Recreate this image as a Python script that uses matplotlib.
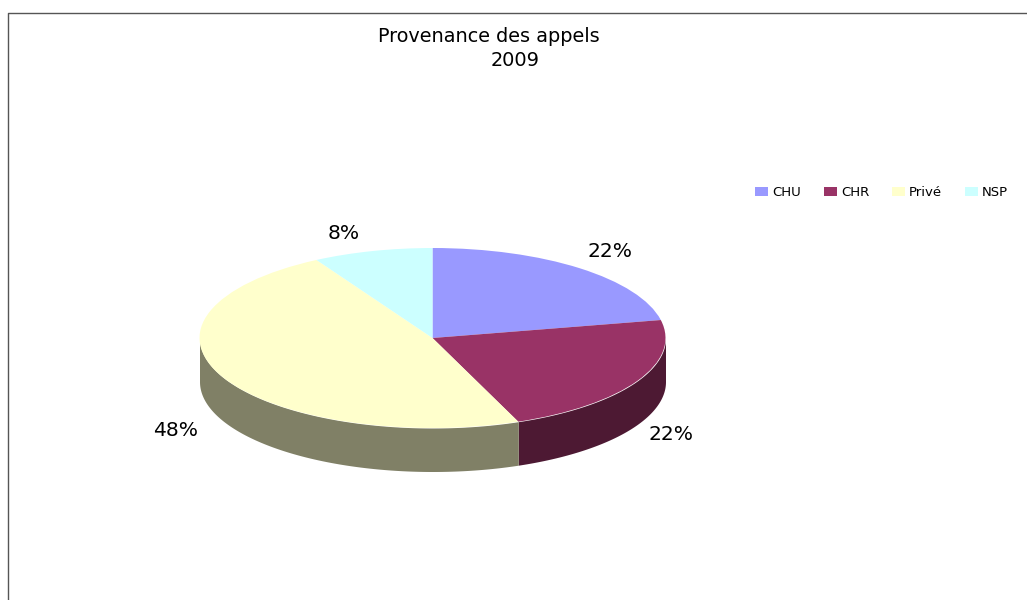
import numpy as np
import matplotlib
matplotlib.use("Agg")
import matplotlib.pyplot as plt
from matplotlib.patches import Patch

labels = ['CHU', 'CHR', 'Privé', 'NSP']
values = [21.8, 22.2, 47.7, 8.3]
top_colors = ['#9999FF', '#993366', '#FFFFCC', '#CCFFFF']
side_colors = ['#4D4D80', '#4D1933', '#808066', '#668080']

W, H = 1027, 600
cx, cy, rx, ry, depth = 432.5, 338, 233, 90, 43.5
start = 90

fig = plt.figure(figsize=(W / 100, H / 100), dpi=100, facecolor='white')

def px(x, y):
    return x / W, 1 - y / H

# chart frame, only top and left show
x0, y0 = px(8, 13)
fig.add_artist(plt.Line2D([x0, x0, 1], [0, y0, y0], color='#555555', lw=1))

ax = fig.add_axes([(cx - rx) / W, 1 - (cy + ry) / H, 2 * rx / W, 2 * ry / H])
ax.pie(values, colors=top_colors, startangle=start, counterclock=False, radius=1,
       center=(0, 0), wedgeprops={'linewidth': 0}, frame=False)
ax.set_aspect('auto')
ax.set_xlim(-1, 1)
ax.set_ylim(-1, 1)
ax.axis('off')

# side wall of the disc, front half only
d = depth / ry
edges = start - np.cumsum([0] + values) * 3.6
for i in range(len(values)):
    a1, a2 = edges[i], edges[i + 1]
    lo, hi = max(a2, -180), min(a1, 0)
    if lo >= hi:
        continue
    t = np.radians(np.linspace(lo, hi, 200))
    ax.fill_between(np.cos(t), np.sin(t) - d, np.sin(t), color=side_colors[i], lw=0,
                    clip_on=False, zorder=0.5)

# percent labels, pixel centres
label_pos = [(610, 252), (671, 434.5), (175.5, 430.5), (344, 233.5)]
for v, (x, y) in zip(values, label_pos):
    fx, fy = px(x, y)
    fig.text(fx, fy, f'{v:.0f}%', fontsize=14.6, ha='center', va='center', color='black')

fx, fy = px(489, 36)
fig.text(fx, fy, 'Provenance des appels', fontsize=13.85, ha='center', va='center')
fx, fy = px(515, 60)
fig.text(fx, fy, '2009', fontsize=13.85, ha='center', va='center')

handles = [Patch(facecolor=c, edgecolor='none', label=l) for c, l in zip(top_colors, labels)]
fx, fy = px(881.5, 192.5)
fig.legend(handles=handles, loc='center', bbox_to_anchor=(fx, fy), ncols=4, frameon=False,
           fontsize=9.5, handlelength=1.0, handleheight=0.75, handletextpad=0.3,
           columnspacing=1.72, borderpad=0, borderaxespad=0)

fig.savefig('out.png', dpi=100)
